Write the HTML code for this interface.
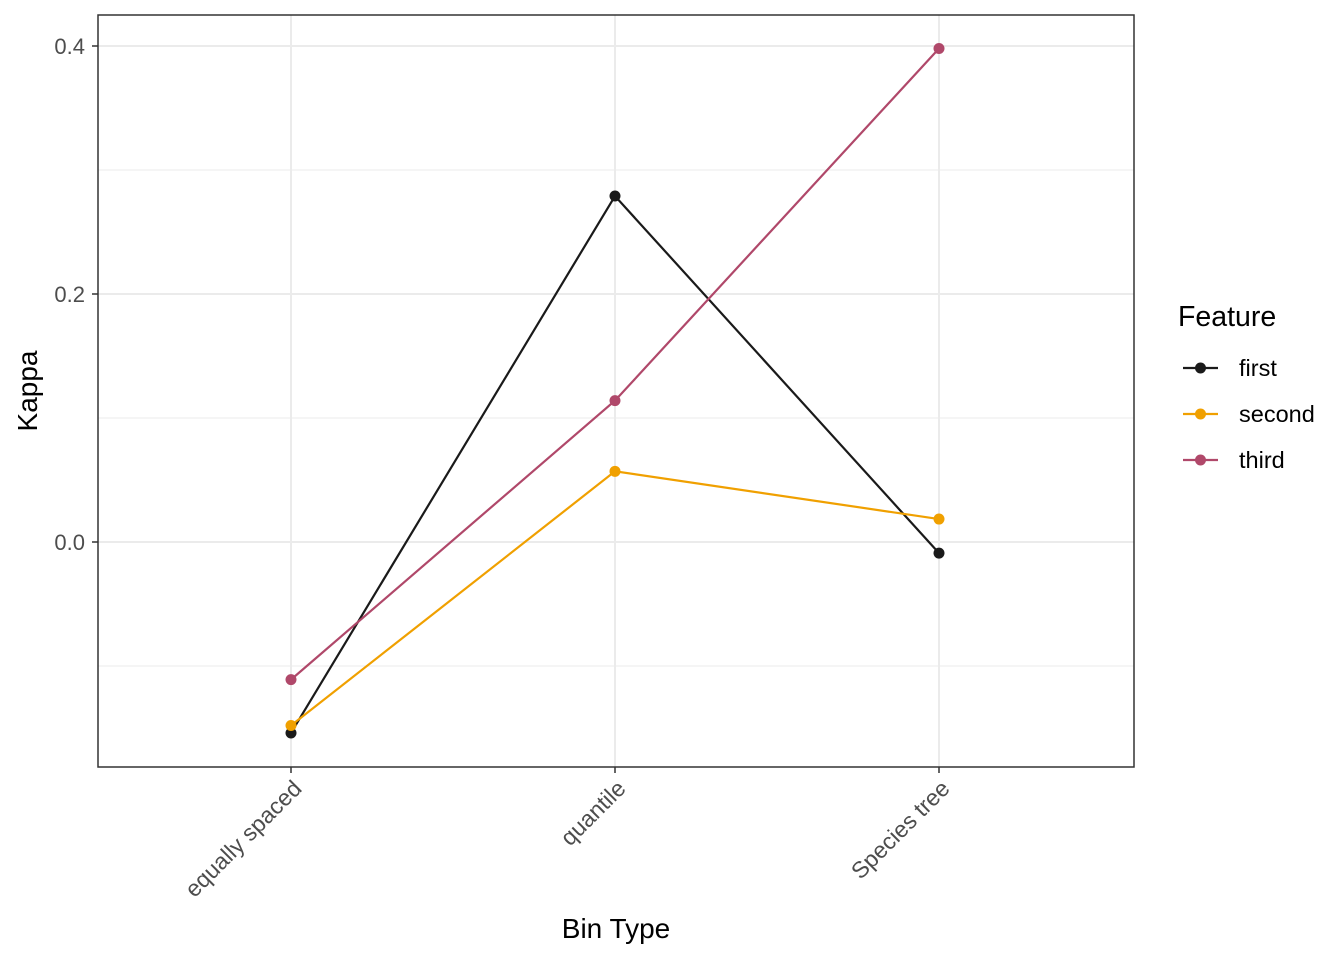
<!DOCTYPE html>
<html><head><meta charset="utf-8"><style>
body{margin:0;background:#fff}
text{font-family:"Liberation Sans",sans-serif}
</style></head><body>
<svg id="chart" width="1344" height="960" xmlns="http://www.w3.org/2000/svg">
<rect width="1344" height="960" fill="#fff"/>
<g id="grid"></g><g id="series"></g><g id="axes"></g><g id="legend"></g>
</svg>
<script>
const categories=["equally spaced","quantile","Species tree"];
const seriesNames=["first","second","third"];
const firstVals=[-0.154,0.279,-0.009];
const secondVals=[-0.148,0.057,0.0185];
const thirdVals=[-0.111,0.114,0.398];
const yTicks=[0.0,0.2,0.4];
const yTickLabels=["0.0","0.2","0.4"];
const colors=["#1a1a1a","#f0a000","#b0486a"];
const NS="http://www.w3.org/2000/svg";
const L=98,R=1134,T=15,B=767;
const y=v=>542-v*1240;
const x=i=>291+i*324;
function mk(tag,attrs,parent,txt){const e=document.createElementNS(NS,tag);for(const k in attrs)e.setAttribute(k,attrs[k]);if(txt!==undefined)e.textContent=txt;parent.appendChild(e);return e;}
const grid=document.getElementById('grid'),axes=document.getElementById('axes'),ser=document.getElementById('series'),leg=document.getElementById('legend');
[-0.1,0.1,0.3].forEach(v=>{const g=mk('line',{x1:L,x2:R,y1:y(v),y2:y(v),stroke:'#ebebeb','stroke-width':1},grid);

});
yTicks.forEach((v,i)=>{const g=mk('line',{x1:L,x2:R,y1:y(v),y2:y(v),stroke:'#ebebeb','stroke-width':2},grid);


const t=mk('line',{x1:L-6,x2:L,y1:y(v),y2:y(v),stroke:'#333','stroke-width':1.5},axes);


const lb=mk('text',{x:L-13,y:y(v)+8,'text-anchor':'end','font-size':22,fill:'#4d4d4d'},axes,yTickLabels[i]);

});
categories.forEach((c,i)=>{const g=mk('line',{x1:x(i),x2:x(i),y1:T,y2:B,stroke:'#ebebeb','stroke-width':2},grid);


const t=mk('line',{x1:x(i),x2:x(i),y1:B,y2:B+6,stroke:'#333','stroke-width':1.5},axes);


const ax=x(i)+12,ay=B+23;
const lb=mk('text',{x:ax,y:ay,'text-anchor':'end','font-size':23,fill:'#4d4d4d',transform:`rotate(-45 ${ax} ${ay})`},axes,c);

});
const frame=mk('rect',{x:L,y:T,width:R-L,height:B-T,fill:'none',stroke:'#333','stroke-width':1.5},axes);


const yt=mk('text',{x:37,y:391,'text-anchor':'middle','font-size':28,fill:'#000',transform:'rotate(-90 37 391)'},axes,'Kappa');


const xt=mk('text',{x:616,y:938,'text-anchor':'middle','font-size':28,fill:'#000'},axes,'Bin Type');


[firstVals,secondVals,thirdVals].forEach((vals,s)=>{
const p=mk('polyline',{points:vals.map((v,i)=>x(i)+','+y(v)).join(' '),fill:'none',stroke:colors[s],'stroke-width':2.2},ser);


vals.forEach((v,i)=>{const c=mk('circle',{cx:x(i),cy:y(v),r:5.5,fill:colors[s]},ser);

});});
const lt=mk('text',{x:1178,y:326,'font-size':28.5,fill:'#000'},leg,'Feature');


seriesNames.forEach((n,s)=>{const yy=368+s*46;
const l=mk('line',{x1:1183,x2:1218,y1:yy,y2:yy,stroke:colors[s],'stroke-width':2.2},leg);


mk('circle',{cx:1200.5,cy:yy,r:5.5,fill:colors[s]},leg);
const t=mk('text',{x:1239,y:yy+8,'font-size':23.5,fill:'#000'},leg,n);

});
</script>
</body></html>
